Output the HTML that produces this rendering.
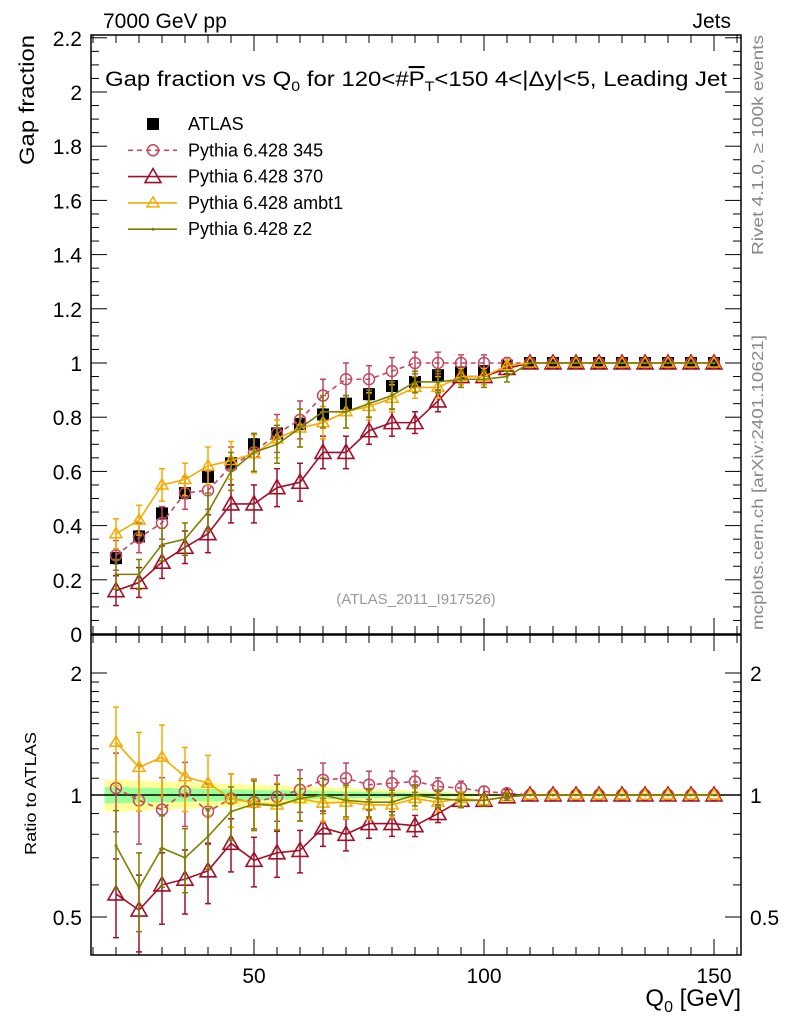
<!DOCTYPE html>
<html><head><meta charset="utf-8"><style>
body{margin:0;background:#fff;}
svg{font-family:"Liberation Sans",sans-serif;}
</style></head><body>
<svg id="c" width="786" height="1024" xmlns="http://www.w3.org/2000/svg">
<text x="103" y="28" font-size="21">7000 GeV pp</text>
<text x="731" y="28" font-size="21" text-anchor="end">Jets</text>
<text x="105" y="86" font-size="21" textLength="622" lengthAdjust="spacingAndGlyphs">Gap fraction vs Q<tspan font-size="14" dy="5">0</tspan><tspan dy="-5"> for 120&lt;#</tspan><tspan text-decoration="overline">P</tspan><tspan font-size="14" dy="5">T</tspan><tspan dy="-5">&lt;150  4&lt;|Δy|&lt;5, Leading Jet</tspan></text>
<text transform="translate(34,165) rotate(-90)" font-size="21" textLength="130" lengthAdjust="spacingAndGlyphs">Gap fraction</text>
<text transform="translate(36,855) rotate(-90)" font-size="16" textLength="123" lengthAdjust="spacingAndGlyphs">Ratio to ATLAS</text>
<text x="741" y="1006" font-size="24" text-anchor="end">Q<tspan font-size="16" dy="6">0</tspan><tspan dy="-6"> [GeV]</tspan></text>
<text transform="translate(763,255) rotate(-90)" font-size="16" fill="#888" textLength="220" lengthAdjust="spacingAndGlyphs">Rivet 4.1.0, ≥ 100k events</text>
<text transform="translate(763,630) rotate(-90)" font-size="16" fill="#888" textLength="295" lengthAdjust="spacingAndGlyphs">mcplots.cern.ch [arXiv:2401.10621]</text>
<text x="416" y="604" font-size="15" fill="#999" text-anchor="middle">(ATLAS_2011_I917526)</text>
<g id="g"></g>
</svg>
<script>
const xs=[20,25,30,35,40,45,50,55,60,65,70,75,80,85,90,95,100,105,110,115,120,125,130,135,140,145,150];
const atlas=[0.28,0.36,0.445,0.52,0.58,0.63,0.70,0.74,0.775,0.81,0.85,0.885,0.915,0.93,0.955,0.965,0.97,0.99,1,1,1,1,1,1,1,1,1];
const atlasErr=[0.02,0.02,0.02,0.02,0.02,0.02,0.02,0.02,0.02,0.02,0.02,0.02,0.015,0.015,0.01,0.01,0.01,0.005,0,0,0,0,0,0,0,0,0];
const s345=[0.29,0.355,0.41,0.52,0.53,0.62,0.67,0.74,0.79,0.88,0.94,0.94,0.97,1,1,1,1,1,1,1,1,1,1,1,1,1,1];
const s370=[0.16,0.19,0.265,0.32,0.37,0.48,0.48,0.54,0.56,0.67,0.67,0.75,0.78,0.78,0.86,0.95,0.95,0.98,1,1,1,1,1,1,1,1,1];
const ambt1=[0.37,0.42,0.55,0.57,0.62,0.64,0.665,0.72,0.76,0.78,0.82,0.84,0.87,0.91,0.91,0.95,0.95,0.99,1,1,1,1,1,1,1,1,1];
const z2=[0.22,0.22,0.33,0.35,0.45,0.6,0.67,0.70,0.76,0.82,0.82,0.85,0.88,0.93,0.93,0.94,0.94,0.95,1,1,1,1,1,1,1,1,1];
const mcErr=[0.055,0.055,0.06,0.06,0.07,0.07,0.07,0.07,0.07,0.06,0.06,0.05,0.05,0.04,0.04,0.03,0.03,0.02,0,0,0,0,0,0,0,0,0];
const r345=[1.04,0.97,0.92,1.02,0.91,0.98,0.96,0.99,1.03,1.09,1.10,1.06,1.07,1.08,1.05,1.04,1.02,1.01,1,1,1,1,1,1,1,1,1];
const r370=[0.57,0.52,0.60,0.62,0.65,0.76,0.69,0.72,0.73,0.83,0.80,0.85,0.85,0.84,0.90,0.97,0.97,0.99,1,1,1,1,1,1,1,1,1];
const rambt1=[1.35,1.17,1.24,1.11,1.07,0.98,0.955,0.945,0.98,0.955,0.96,0.945,0.945,0.98,0.96,0.98,0.97,0.99,1,1,1,1,1,1,1,1,1];
const rz2=[0.75,0.59,0.74,0.70,0.79,0.91,0.95,0.94,0.98,1.0,0.97,0.96,0.96,1.0,0.98,0.97,0.97,0.99,1,1,1,1,1,1,1,1,1];
const rErr=[0.22,0.22,0.2,0.18,0.17,0.15,0.14,0.13,0.12,0.1,0.09,0.08,0.07,0.06,0.05,0.04,0.03,0.02,0,0,0,0,0,0,0,0,0];
const yTicks=[0,0.2,0.4,0.6,0.8,1,1.2,1.4,1.6,1.8,2,2.2];
const yTickLabels=["0","0.2","0.4","0.6","0.8","1","1.2","1.4","1.6","1.8","2","2.2"];
const xTicks=[50,100,150];
const rTicks=[0.5,1,2];

const X=v=>254+(v-50)*4.6;
const Y=v=>634-271*v;
const R=v=>795-122*Math.log2(v);
const L=91,Rt=741,T1=35,B1=634,T2=635,B2=955;
const g=document.getElementById('g');
const NS='http://www.w3.org/2000/svg';
function el(t,a,p){const e=document.createElementNS(NS,t);for(const k in a)e.setAttribute(k,a[k]);(p||g).appendChild(e);return e;}

const bw=4.6*2.5;
for(let i=0;i<xs.length;i++){
  const f=Math.max(0.08,1-i/18);
  const y1=el('rect',{x:X(xs[i])-bw,y:R(1+0.09*f),width:2*bw,height:R(1-0.09*f)-R(1+0.09*f),fill:'#ffff99'});
  
  
  const g1=el('rect',{x:X(xs[i])-bw,y:R(1+0.045*f),width:2*bw,height:R(1-0.045*f)-R(1+0.045*f),fill:'#99ff99'});
  
  
}
const one=el('line',{x1:L,x2:Rt,y1:R(1),y2:R(1),stroke:'#000','stroke-width':1.5});



[[T1,B1],[T2,B2]].forEach(([t,b],k)=>{
  const f=el('rect',{x:L,y:t,width:Rt-L,height:b-t,fill:'none',stroke:'#000','stroke-width':1.5});
  
  
  for(let v=15;v<=155;v+=5){const len=(v%50==0)?16:8;
    el('line',{x1:X(v),x2:X(v),y1:b,y2:b-len,stroke:'#000'});
    el('line',{x1:X(v),x2:X(v),y1:t,y2:t+len,stroke:'#000'});}
});
for(let v=0;v<=2.2001;v+=0.05){const maj=Math.abs(v*5-Math.round(v*5))<1e-6;const len=maj?16:8;
  el('line',{x1:L,x2:L+len,y1:Y(v),y2:Y(v),stroke:'#000'});
  el('line',{x1:Rt,x2:Rt-len,y1:Y(v),y2:Y(v),stroke:'#000'});}
yTicks.forEach((v,i)=>{const t=el('text',{x:82,y:Y(v)+8,'font-size':21,'text-anchor':'end'});t.textContent=yTickLabels[i];
  
  });
[0.5,0.6,0.7,0.8,0.9,1,1.1,1.2,1.3,1.4,1.5,1.6,1.7,1.8,1.9,2].forEach(v=>{const len=rTicks.includes(v)?16:8;
  el('line',{x1:L,x2:L+len,y1:R(v),y2:R(v),stroke:'#000'});
  el('line',{x1:Rt,x2:Rt-len,y1:R(v),y2:R(v),stroke:'#000'});});
rTicks.forEach(v=>{const lab=String(v);
  const t=el('text',{x:82,y:R(v)+8,'font-size':21,'text-anchor':'end'});t.textContent=lab;
  
  
  const t2=el('text',{x:750,y:R(v)+8,'font-size':21});t2.textContent=lab;
  
  });
xTicks.forEach(v=>{const t=el('text',{x:X(v),y:983,'font-size':21,'text-anchor':'middle'});t.textContent=v;
  
  });

function marker(type,x,y,c,p){
  if(type=='circle')el('circle',{cx:x,cy:y,r:5.5,fill:'none',stroke:c,'stroke-width':1.5},p);
  else if(type=='tri')el('polygon',{points:`${x},${y-8} ${x-8},${y+6} ${x+8},${y+6}`,fill:'none',stroke:c,'stroke-width':1.6},p);
  else if(type=='stri')el('polygon',{points:`${x},${y-6} ${x-6},${y+4} ${x+6},${y+4}`,fill:'none',stroke:c,'stroke-width':1.5},p);
  else if(type=='dot')el('circle',{cx:x,cy:y,r:1.5,fill:c},p);
  else if(type=='sq')el('rect',{x:x-6,y:y-6,width:12,height:12,fill:c},p);
}
function series(name,vals,errs,yf,c,type,dash,relErr){
  const grp=el('g',{});
  
  
  const pts=xs.map((x,i)=>[X(x),yf(vals[i])]);
  if(type!='sq')el('polyline',{points:pts.map(p=>p.join(',')).join(' '),fill:'none',stroke:c,'stroke-width':1.6,'stroke-dasharray':dash||''},grp);
  xs.forEach((x,i)=>{const e=relErr?errs[i]*vals[i]:errs[i];if(e>0){
    const lo=relErr?Math.max(0.41,vals[i]-e):vals[i]-e;
    const y1=yf(vals[i]+e),y2=yf(lo),xx=X(x);
    el('line',{x1:xx,x2:xx,y1:y1,y2:y2,stroke:c,'stroke-width':1.5},grp);
    el('line',{x1:xx-3,x2:xx+3,y1:y1,y2:y1,stroke:c,'stroke-width':1.5},grp);
    el('line',{x1:xx-3,x2:xx+3,y1:y2,y2:y2,stroke:c,'stroke-width':1.5},grp);}
    marker(type,X(x),yf(vals[i]),c,grp);});
}
const C345='#c04860',C370='#a01028',CA='#f5aa00',CZ='#7c8000';
series('atlas-data',atlas,atlasErr,Y,'#000','sq');
series('pythia-345',s345,mcErr,Y,C345,'circle','5,4');
series('pythia-370',s370,mcErr,Y,C370,'tri');
series('pythia-ambt1',ambt1,mcErr,Y,CA,'stri');
series('pythia-z2',z2,mcErr,Y,CZ,'dot');
series('ratio-345',r345,rErr,R,C345,'circle','5,4',true);
series('ratio-370',r370,rErr,R,C370,'tri','',true);
series('ratio-ambt1',rambt1,rErr,R,CA,'stri','',true);
series('ratio-z2',rz2,rErr,R,CZ,'dot','',true);

const leg=[['ATLAS','#000','sq',''],['Pythia 6.428 345',C345,'circle','5,4'],['Pythia 6.428 370',C370,'tri',''],['Pythia 6.428 ambt1',CA,'stri',''],['Pythia 6.428 z2',CZ,'dot','']];
leg.forEach((l,i)=>{const y=124+i*26.3;const lg=el('g',{});
  
  
  if(l[2]!='sq')el('line',{x1:128,x2:177,y1:y,y2:y,stroke:l[1],'stroke-width':1.6,'stroke-dasharray':l[3]},lg);
  marker(l[2],153,y,l[1],lg);
  const t=el('text',{x:188,y:y+6,'font-size':18},lg);t.textContent=l[0];});
</script>
</body></html>
